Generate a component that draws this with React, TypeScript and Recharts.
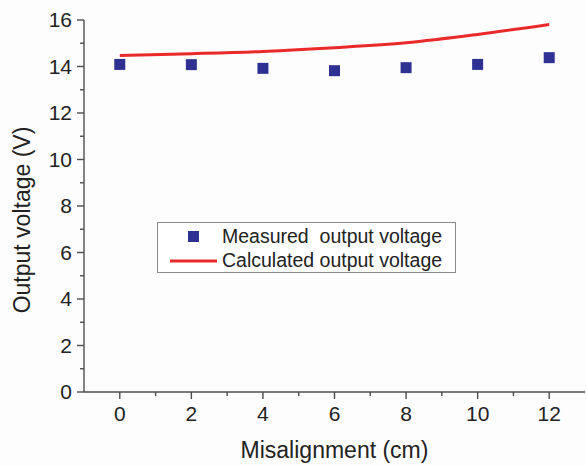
import React from "react";
import {
  ComposedChart,
  Line,
  Scatter,
  XAxis,
  YAxis,
  Legend,
} from "recharts";

// Misalignment positions (cm)
const misalignment = [0, 2, 4, 6, 8, 10, 12];
// Measured output voltage (V)
const measuredVoltage = [14.09, 14.08, 13.92, 13.82, 13.95, 14.09, 14.38];
// Calculated output voltage (V)
const calculatedVoltage = [14.47, 14.55, 14.65, 14.81, 15.02, 15.38, 15.81];

const xTicks = [-1, 0, 1, 2, 3, 4, 5, 6, 7, 8, 9, 10, 11, 12, 13];
const yTicks = [0, 1, 2, 3, 4, 5, 6, 7, 8, 9, 10, 11, 12, 13, 14, 15, 16];
const frameTicks = [1, 2, 3, 4, 5, 6, 7, 8, 9];

const seriesNames = ["Measured  output voltage", "Calculated output voltage"];

const data = misalignment.map((x, i) => ({
  x,
  measured: measuredVoltage[i],
  calculated: calculatedVoltage[i],
}));

const FONT = "'Liberation Sans', Arial, Helvetica, sans-serif";
const AXIS = "#4d4d4d";
const BLUE = "#2e3192";
const RED = "#ea2a2a";

const BottomTick = (props: any) => {
  const { x, y, payload } = props;
  const v = payload.value;
  if (v === -1 || v === 13) return null;
  const major = v % 2 === 0;
  return (
    <g>
      <line x1={x} x2={x} y1={y} y2={y + (major ? 7 : 4)} stroke={AXIS} strokeWidth={1.4} />
      {major && (
        <text x={x} y={y + 29} textAnchor="middle" fontFamily={FONT} fontSize={21} fill="#222">
          {v}
        </text>
      )}
    </g>
  );
};

const LeftTick = (props: any) => {
  const { x, y, payload } = props;
  const v = payload.value;
  const major = v % 2 === 0;
  return (
    <g>
      <line x1={x - (major ? 7 : 4)} x2={x} y1={y} y2={y} stroke={AXIS} strokeWidth={1.4} />
      {major && (
        <text x={x - 12} y={y + 7} textAnchor="end" fontFamily={FONT} fontSize={21} fill="#222">
          {v}
        </text>
      )}
    </g>
  );
};

const TopTick = (props: any) => {
  const { x, y, payload } = props;
  const major = payload.value % 2 === 0;
  return <line x1={x} x2={x} y1={y} y2={y + (major ? 6 : 3)} stroke={AXIS} strokeWidth={1.4} />;
};

const RightTick = (props: any) => {
  const { x, y, payload } = props;
  const major = payload.value % 2 === 0;
  return <line x1={x - (major ? 6 : 3)} x2={x} y1={y} y2={y} stroke={AXIS} strokeWidth={1.4} />;
};

const SquareMarker = (props: any) => {
  const { cx, cy } = props;
  if (cx == null || cy == null) return null;
  return <rect x={cx - 5.5} y={cy - 5.5} width={11} height={11} fill={BLUE} />;
};

const LegendBox = () => (
  <div
    style={{
      width: 299,
      height: 51,
      border: "1px solid #8a8a8a",
      background: "#fff",
      boxSizing: "border-box",
    }}
  >
    <svg width={297} height={49} style={{ display: "block" }}>
      <rect x={30} y={8} width={11} height={11} fill={BLUE} />
      <line x1={12} x2={59} y1={38} y2={38} stroke={RED} strokeWidth={3} />
      <text x={64} y={20} fontFamily={FONT} fontSize={19.5} fill="#222" style={{ whiteSpace: "pre" }}>
        {seriesNames[0]}
      </text>
      <text x={64} y={44} fontFamily={FONT} fontSize={19.5} fill="#222" style={{ whiteSpace: "pre" }}>
        {seriesNames[1]}
      </text>
    </svg>
  </div>
);

const XTitle = (props: any) => {
  const vb = props.viewBox;
  return (
    <text x={vb.x + vb.width / 2} y={vb.y + 66} textAnchor="middle" fontFamily={FONT} fontSize={23} fill="#222">
      Misalignment (cm)
    </text>
  );
};

const YTitle = (props: any) => {
  const vb = props.viewBox;
  const cx = 30;
  const cy = vb.y + vb.height / 2 + 14;
  return (
    <text
      x={cx}
      y={cy}
      transform={`rotate(-90, ${cx}, ${cy})`}
      textAnchor="middle"
      fontFamily={FONT}
      fontSize={23}
      fill="#222"
    >
      Output voltage (V)
    </text>
  );
};

export default function App() {
  return (
    <div style={{ position: "absolute", left: 0, top: 0, width: 586, height: 466, background: "#fdfdfd" }}>
      <ComposedChart
        width={586}
        height={466}
        data={data}
        margin={{ top: 20, right: 1, bottom: 0, left: 0 }}
      >
        <XAxis
          xAxisId="bottom"
          dataKey="x"
          type="number"
          domain={[-1, 13]}
          ticks={xTicks}
          interval={0}
          height={74}
          tickSize={0}
          tickMargin={0}
          tickLine={false}
          tick={<BottomTick />}
          axisLine={{ stroke: AXIS, strokeWidth: 1.4 }}
          allowDataOverflow
          label={<XTitle />}
        />
        <XAxis
          xAxisId="top"
          orientation="top"
          type="number"
          domain={[0, 10]}
          ticks={frameTicks}
          interval={0}
          height={0}
          tickSize={0}
          tickMargin={0}
          tickLine={false}
          tick={<TopTick />}
          axisLine={{ stroke: AXIS, strokeWidth: 1.4 }}
          allowDataOverflow
        />
        <YAxis
          yAxisId="left"
          type="number"
          domain={[0, 16]}
          ticks={yTicks}
          interval={0}
          width={84}
          tickSize={0}
          tickMargin={0}
          tickLine={false}
          tick={<LeftTick />}
          axisLine={{ stroke: AXIS, strokeWidth: 1.4 }}
          allowDataOverflow
          label={<YTitle />}
        />
        <YAxis
          yAxisId="right"
          orientation="right"
          type="number"
          domain={[0, 10]}
          ticks={frameTicks}
          interval={0}
          width={0}
          tickSize={0}
          tickMargin={0}
          tickLine={false}
          tick={<RightTick />}
          axisLine={{ stroke: AXIS, strokeWidth: 1.4 }}
          allowDataOverflow
        />
        <Line
          xAxisId="bottom"
          yAxisId="left"
          dataKey="calculated"
          type="monotone"
          stroke={RED}
          strokeWidth={3}
          dot={false}
          isAnimationActive={false}
        />
        <Scatter
          xAxisId="bottom"
          yAxisId="left"
          dataKey="measured"
          shape={<SquareMarker />}
          isAnimationActive={false}
        />
        <Legend
          layout="vertical"
          align="center"
          verticalAlign="middle"
          content={<LegendBox />}
          wrapperStyle={{ left: 157, top: 222, width: 299, height: 51 }}
        />
      </ComposedChart>
    </div>
  );
}
